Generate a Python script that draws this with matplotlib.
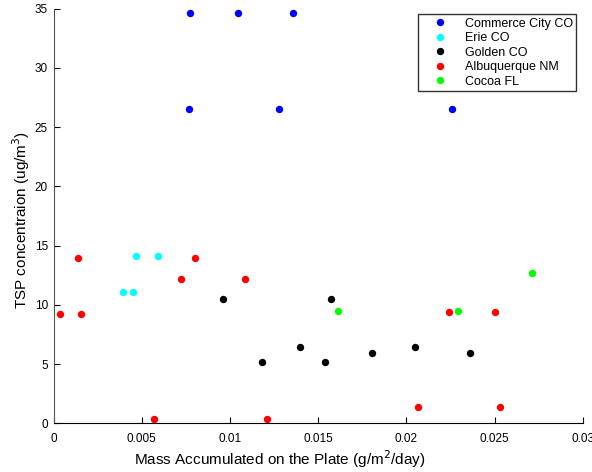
import matplotlib
matplotlib.use("Agg")
import matplotlib.pyplot as plt

plt.rcParams['font.family'] = ['Liberation Sans', 'DejaVu Sans']

# data
commerce_x = [0.00776, 0.01048, 0.01359, 0.00766, 0.01277, 0.02257]
commerce_y = [34.6, 34.6, 34.6, 26.5, 26.5, 26.5]

erie_x = [0.00469, 0.00592, 0.00393, 0.00452]
erie_y = [14.12, 14.12, 11.11, 11.11]

golden_x = [0.00963, 0.01179, 0.01397, 0.01573, 0.01537, 0.01806, 0.0205, 0.02363]
golden_y = [10.47, 5.16, 6.42, 10.47, 5.16, 5.92, 6.42, 5.92]

albuq_x = [0.001375, 0.00037, 0.00156, 0.0072, 0.00804, 0.01086, 0.00571, 0.01211,
           0.0224, 0.02503, 0.02067, 0.02531]
albuq_y = [13.93, 9.21, 9.21, 12.21, 13.93, 12.21, 0.35, 0.35,
           9.40, 9.40, 1.39, 1.39]

cocoa_x = [0.01613, 0.02291, 0.02711]
cocoa_y = [9.49, 9.49, 12.66]

series = [
    ("Commerce City CO", commerce_x, commerce_y, "#0000ff"),
    ("Erie CO", erie_x, erie_y, "#00ffff"),
    ("Golden CO", golden_x, golden_y, "#000000"),
    ("Albuquerque NM", albuq_x, albuq_y, "#ff0000"),
    ("Cocoa FL", cocoa_x, cocoa_y, "#00ff00"),
]

fig = plt.figure(figsize=(5.92, 4.72), dpi=100)
ax = fig.add_axes([0.0904, 0.1028, 0.894, 0.879])

for name, xs, ys, col in series:
    ax.plot(xs, ys, linestyle='none', marker='o', markersize=4.3,
            color=col, markeredgecolor=col, label=name)

ax.set_xlim(0, 0.03)
ax.set_ylim(0, 35)
ax.set_xticks([0, 0.005, 0.01, 0.015, 0.02, 0.025, 0.03])
ax.set_xticklabels(["0", "0.005", "0.01", "0.015", "0.02", "0.025", "0.03"])
ax.set_yticks(range(0, 36, 5))

ax.spines['top'].set_visible(False)
ax.spines['right'].set_visible(False)
ax.spines['left'].set_color('#555555')
ax.tick_params(direction='in', length=4, labelsize=8.5)
ax.tick_params(axis='x', pad=7)
ax.tick_params(axis='y', pad=4)

ax.set_xlabel("Mass Accumulated on the Plate (g/m$^2$/day)", fontsize=11)
ax.xaxis.set_label_coords(0.428, -0.06)
ax.set_ylabel("TSP concentraion (ug/m$^3$)", fontsize=11)
ax.yaxis.set_label_coords(-0.04, 0.49)

leg = ax.legend(loc='upper right', bbox_to_anchor=(0.988, 0.987), fontsize=9,
                frameon=True, fancybox=False, edgecolor='black',
                borderaxespad=0, handletextpad=0.45, borderpad=0.3,
                labelspacing=0.2, handlelength=3.0)
leg.get_frame().set_linewidth(1.0)

fig.savefig("out.png", dpi=100)
